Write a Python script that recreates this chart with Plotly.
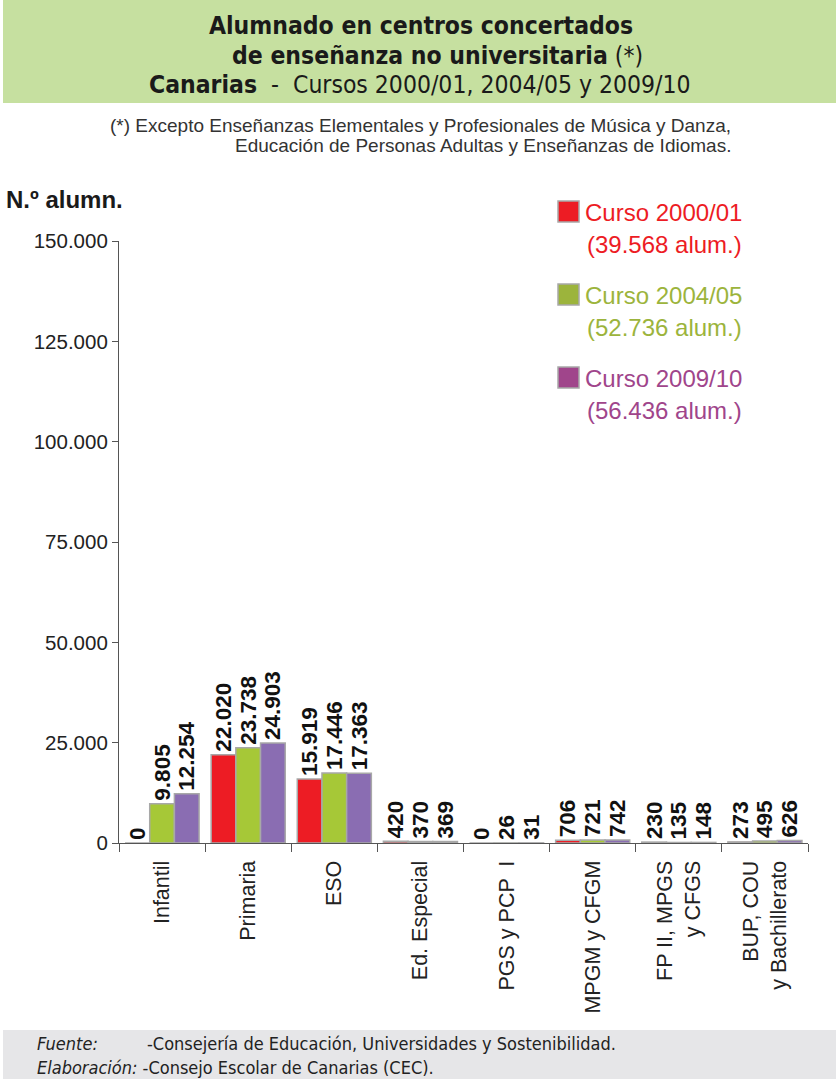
import plotly.graph_objects as go

# -------------------------------------
# Data
# -------------------------------------
categories = [
  "Infantil", "Primaria", "ESO", "Ed. Especial", "PGS y PCP  I",
  "MPGM y CFGM", "FP II, MPGS<br>y CFGS", "BUP, COU<br>y Bachillerato",
]
curso_2000 = [0, 22020, 15919, 420, 0, 706, 230, 273]
curso_2004 = [9805, 23738, 17446, 370, 26, 721, 135, 495]
curso_2009 = [12254, 24903, 17363, 369, 31, 742, 148, 626]

series_names = ["Curso 2000/01", "Curso 2004/05", "Curso 2009/10"]
series_totals = ["(39.568 alum.)", "(52.736 alum.)", "(56.436 alum.)"]
bar_colors = ["#ED1C24", "#A6C837", "#8A6DB2"]
legend_colors = ["#ED1C24", "#9CB43C", "#A0458B"]

y_ticks = [0, 25000, 50000, 75000, 100000, 125000, 150000]

SANS = "Liberation Sans, Arial, sans-serif"
NARROW = "Liberation Sans Narrow, DejaVu Sans Condensed, Arial Narrow, sans-serif"

fig = go.Figure()
for name, vals, col in zip(series_names, [curso_2000, curso_2004, curso_2009], bar_colors):
  fig.add_trace(go.Bar(
    x=categories, y=vals, name=name,
    marker=dict(color=col, line=dict(color="#A8A8A8", width=1.5)),
    texttemplate="<b>%{y:,}</b>\u00a0", textposition="outside", textangle=-90,
    constraintext="none",
    textfont=dict(family=SANS, size=22.5, color="#111"),
    cliponaxis=False, showlegend=False,
  ))

fig.update_layout(
  width=836, height=1079,
  paper_bgcolor="white", plot_bgcolor="white",
  margin=dict(l=119, r=28, t=241, b=236, autoexpand=False),
  barmode="group", bargap=0.14, bargroupgap=0,
  separators=",.",
)
fig.update_yaxes(
  range=[0, 150000], tickvals=y_ticks, tickformat=",",
  showgrid=False, zeroline=False, automargin=False,
  showline=True, linecolor="#555", linewidth=1.2,
  ticks="outside", ticklen=6, tickcolor="#555",
  tickfont=dict(family=SANS, size=20.5, color="#222"),
)
fig.update_xaxes(
  showgrid=False, showline=True, linecolor="#555", linewidth=1.2,
  automargin=False, ticklabelstandoff=8,
  ticks="outside", tickson="boundaries", ticklen=8, tickcolor="#555",
  tickangle=-90, tickfont=dict(family=SANS, size=21.5, color="#222"),
)

# title band
fig.add_shape(type="rect", xref="paper", yref="paper",
  x0=-116/689, x1=1 + 28/689, y0=1 + (241 - 103)/602, y1=1 + 241/602,
  fillcolor="#C6E0A0", line=dict(width=0), layer="below")
# footer band
fig.add_shape(type="rect", xref="paper", yref="paper",
  x0=-116/689, x1=1 + 28/689, y0=-(1079 - 843)/602, y1=-(1030 - 843)/602,
  fillcolor="#E6E6E8", line=dict(width=0), layer="below")

def px_x(x):
  return (x - 119) / 689

def px_y(y):
  return (843 - y) / 602

def note(text, x, y, size, color="#222", family=SANS, xanchor="left"):
  fig.add_annotation(text=text, x=px_x(x), y=px_y(y), xref="paper", yref="paper",
    showarrow=False, xanchor=xanchor, yanchor="middle",
    font=dict(family=family, size=size, color=color))

note("<b>Alumnado en centros concertados</b>", 421, 26, 24.5, "#1a1a1a", NARROW, "center")
note("<b>de enseñanza no universitaria</b> (*)", 437, 55, 24.5, "#1a1a1a", NARROW, "center")
note("<b>Canarias</b>  -  Cursos 2000/01, 2004/05 y 2009/10", 420, 84, 24.5, "#1a1a1a", NARROW, "center")

note("(*) Excepto Enseñanzas Elementales y Profesionales de Música y Danza,", 733, 125, 19, "#333", SANS, "right")
note("Educación de Personas Adultas y Enseñanzas de Idiomas.", 733, 146, 19, "#333", SANS, "right")

note("<b>N.º alumn.</b>", 4, 199, 24, "#1a1a1a")

# legend
for i, (name, tot, col) in enumerate(zip(series_names, series_totals, legend_colors)):
  yy = 212 + i * 83
  fig.add_shape(type="rect", xref="paper", yref="paper",
    x0=px_x(558), x1=px_x(579), y0=px_y(222 + i * 83), y1=px_y(201 + i * 83),
    fillcolor=col, line=dict(color="#A8A8A8", width=1.5))
  note(name, 583, yy, 24, col)
  note(tot, 585, yy + 32, 24, col)

note("<i>Fuente:</i>", 35, 1043, 18, "#222", NARROW)
note("-Consejería de Educación, Universidades y Sostenibilidad.", 145, 1043, 18, "#222", NARROW)
note("<i>Elaboración:</i> -Consejo Escolar de Canarias (CEC).", 35, 1067, 18, "#222", NARROW)

# page body has a default 8px margin; drop it so the figure sits at the corner
fig.write_html(
  "out.html",
  config={"displayModeBar": False},
  post_script="document.body.style.margin='0';",
)
